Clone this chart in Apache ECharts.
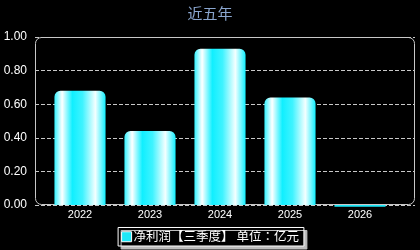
<!DOCTYPE html>
<html>
<head>
<meta charset="utf-8">
<script src="https://cdn.jsdelivr.net/npm/echarts@6/dist/echarts.min.js"></script>
<style>
html, body { margin: 0; padding: 0; background: #000; }
#chart { width: 420px; height: 250px; }
</style>
</head>
<body>
<div id="chart"></div>
<script>
var years = ['2022', '2023', '2024', '2025', '2026'];
var profit = [0.68, 0.44, 0.93, 0.64, -0.01];
var seriesName = '净利润【三季度】 单位：亿元';

var myChart = echarts.init(document.getElementById('chart'));

// 柱子横向渐变
var barColor = new echarts.graphic.LinearGradient(0, 0, 1, 0, [
    { offset: 0, color: '#33f2ff' },
    { offset: 0.15, color: '#ffffff' },
    { offset: 0.35, color: '#10efff' },
    { offset: 0.55, color: '#3ff3ff' },
    { offset: 0.8, color: '#f4ffff' },
    { offset: 1, color: '#10efff' }
]);

// 负值用纯色平头
var barData = profit.map(function (v) {
    if (v < 0) {
        return { value: v, itemStyle: { color: '#1ee8f8', borderRadius: 0 } };
    }
    return v;
});

var option = {
    backgroundColor: '#000',
    title: {
        text: '近五年',
        left: 'center',
        top: 1,
        textStyle: { color: '#8aa6cf', fontSize: 15, fontWeight: 'normal', fontFamily: 'Noto Sans CJK SC' }
    },
    // grid 0: 网格线和y轴, grid 1: 柱子
    grid: [
        { left: 35, right: 5, top: 37, bottom: 45 },
        { left: 45, right: 25, top: 37, bottom: 45 }
    ],
    graphic: [{
        type: 'rect',
        z: 0,
        silent: true,
        shape: { x: 35.5, y: 37.5, width: 379, height: 167, r: 6 },
        style: { fill: 'none', stroke: '#c8c8c8', lineWidth: 1 }
    }],
    legend: {
        data: [seriesName],
        bottom: 4,
        left: 'center',
        icon: 'rect',
        itemWidth: 10,
        itemHeight: 10,
        itemGap: 5,
        padding: [3, 5, 3, 3],
        backgroundColor: '#000',
        borderColor: '#ffffff',
        borderWidth: 1,
        shadowColor: '#bdbdbd',
        shadowOffsetX: 3,
        shadowOffsetY: 3,
        shadowBlur: 0,
        itemStyle: { color: '#1ee8f8', borderColor: '#fff', borderWidth: 1 },
        textStyle: { color: '#fff', fontSize: 12.5, fontFamily: 'Noto Sans CJK TC', padding: [0, 0, 0, -3] }
    },
    xAxis: [{
        type: 'category',
        gridIndex: 0,
        data: years,
        show: false
    }, {
        type: 'category',
        gridIndex: 1,
        data: years,
        axisLine: { show: false },
        axisTick: { show: false },
        axisLabel: { color: '#fff', fontSize: 11, fontFamily: 'Arial, Liberation Sans', margin: 4 }
    }],
    yAxis: [{
        type: 'value',
        gridIndex: 0,
        min: 0,
        max: 1,
        interval: 0.2,
        axisLine: { show: false },
        axisTick: { show: false },
        axisLabel: {
            color: '#fff',
            fontSize: 12,
            fontFamily: 'Arial, Liberation Sans',
            margin: 8,
            formatter: function (v) { return v.toFixed(2); }
        },
        splitLine: { lineStyle: { color: '#c8c8c8', type: [4, 2] } }
    }, {
        type: 'value',
        gridIndex: 1,
        min: 0,
        max: 1,
        interval: 0.2,
        show: false,
        splitLine: { show: false }
    }],
    series: [{
        name: seriesName,
        type: 'bar',
        xAxisIndex: 1,
        yAxisIndex: 1,
        data: barData,
        barWidth: '73%',
        clip: false,
        itemStyle: { color: barColor, borderRadius: [6, 6, 0, 0] }
    }]
};

myChart.setOption(option);
</script>
</body>
</html>
